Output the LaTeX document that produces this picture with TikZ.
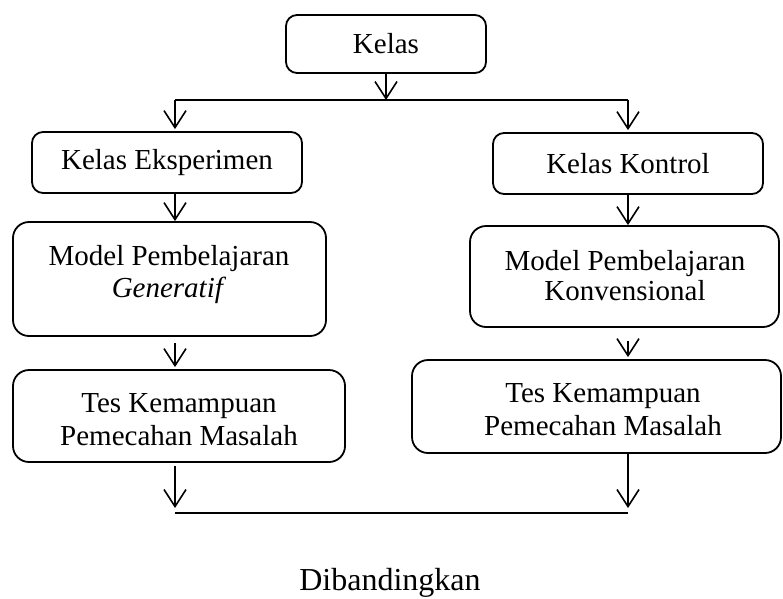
\documentclass[tikz,border=0pt]{standalone}
\usepackage{fontspec}
\setmainfont{Liberation Serif}
\usetikzlibrary{arrows.meta}

\begin{document}
\begin{tikzpicture}[
  x=1pt, y=1pt,
  box/.style={draw, line width=1.8pt, rounded corners=11pt, align=center,
    inner sep=0pt, font=\fontsize{29}{33}\selectfont},
  bigbox/.style={box, rounded corners=16pt},
  boxtext/.style={align=center, inner sep=0pt, anchor=north},
  link/.style={line width=1.6pt},
  flow/.style={link, -{Straight Barb[length=17pt,width=22pt]}},
]
\useasboundingbox (0,0) rectangle (783,-598);

% single-line boxes
\node[box, minimum width=200pt, minimum height=58pt] (kelas) at (386,-44) {Kelas};
\node[box, minimum width=270pt, minimum height=61pt] (ke) at (167,-162.5) {Kelas Eksperimen};
\node[box, minimum width=270pt, minimum height=61pt] (kk) at (628,-163.5) {Kelas Kontrol};

% two-line boxes: frame and text
\node[bigbox, minimum width=313pt, minimum height=114pt] (mg) at (169.5,-279) {};
\node[boxtext, font=\fontsize{29}{32}\selectfont] (mgtext) at (169,-245.2)
  {Model Pembelajaran\\\textit{Generatif}};
\node[bigbox, minimum width=309pt, minimum height=101pt] (mk) at (624.5,-276.5) {};
\node[boxtext, font=\fontsize{29}{29.5}\selectfont] (mktext) at (625,-250.2)
  {Model Pembelajaran\\Konvensional};
\node[bigbox, minimum width=332pt, minimum height=92pt] (tl) at (179,-416) {};
\node[boxtext, font=\fontsize{29}{33}\selectfont] (tltext) at (179,-392.8)
  {Tes Kemampuan\\Pemecahan Masalah};
\node[bigbox, minimum width=369pt, minimum height=93pt] (tr) at (596.5,-406.5) {};
\node[boxtext, font=\fontsize{29}{33}\selectfont] (trtext) at (603,-382.8)
  {Tes Kemampuan\\Pemecahan Masalah};

% branching below "Kelas"
\coordinate (split) at (386,-100);
\coordinate (lsplit) at (175,-100);
\coordinate (rsplit) at (628,-100);
\draw[flow] (kelas.south) -- (split);
\draw[link] (lsplit) -- (rsplit);
\draw[flow, shorten >=2pt] (lsplit) -- (lsplit |- ke.north);
\draw[flow, shorten >=2pt] (rsplit) -- (rsplit |- kk.north);

% left column
\draw[flow] (ke.south -| lsplit) -- (mg.north -| lsplit);
\draw[flow, shorten >=2pt] ([yshift=-6pt]mg.south -| lsplit) -- (tl.north -| lsplit);

% right column
\draw[flow] (kk.south) -- (kk.south |- mk.north);
\draw[flow, shorten >=2pt] ([yshift=-13pt]mk.south -| rsplit) -- (tr.north -| rsplit);

% joining line
\coordinate (lbot) at (175,-513);
\coordinate (rbot) at (628,-513);
\draw[flow] ([yshift=-3pt]tl.south -| lbot) -- ([yshift=5pt]lbot);
\draw[flow] (tr.south -| rbot) -- ([yshift=5pt]rbot);
\draw[link] (lbot) -- (rbot);

\node[anchor=base, inner sep=0pt, font=\fontsize{32}{38}\selectfont] (hasil) at (390,-590) {Dibandingkan};
\end{tikzpicture}
\end{document}
